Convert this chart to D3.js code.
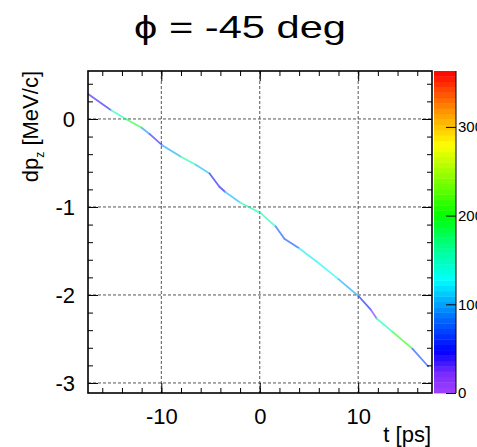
<!DOCTYPE html>
<html>
<head>
<meta charset="utf-8">
<script src="https://cdn.jsdelivr.net/npm/d3@7"></script>
<style>
  html, body { margin: 0; padding: 0; background: #fff; }
  svg { display: block; font-family: "Liberation Sans", Arial, sans-serif; }
</style>
</head>
<body>
<script>
// trajectory samples
const tValues  = [-17.4, -15.1, -13.6, -12.0, -11.2, -9.9, -8.0, -6.5, -5.1, -4.1, -3.5, -2.0,
                  0.1, 1.6, 2.5, 4.0, 6.0, 8.0, 10.1, 11.3, 11.9, 13.5, 15.5, 17.1];
const dpValues = [0.28, 0.10, 0.0, -0.10, -0.17, -0.30, -0.43, -0.52, -0.62, -0.77, -0.83, -0.95,
                  -1.07, -1.22, -1.36, -1.47, -1.64, -1.82, -2.02, -2.17, -2.27, -2.42, -2.61, -2.81];
const zValues  = [20, 60, 250, 130, 60, 20, 180, 140, 70, 20, 80, 130,
                  190, 120, 30, 110, 130, 120, 80, 20, 30, 280, 130, 10];

const xMajor = [-10, 0, 10];
const xMinor = d3.range(-16, 17, 2);
const yMajor = [0, -1, -2, -3];
const yMinor = d3.range(-3, 0.5, 0.2);
const zTicks = [0, 100, 200, 300];

// palette stops (fraction of z range) and colours
const palStops  = [0, 0.06, 0.13, 0.25, 0.35, 0.45, 0.55, 0.66, 0.77, 0.87, 1];
const palColors = ["#a040ff", "#7a2cff", "#0000ff", "#0080ff", "#00ffff", "#00ff90",
                   "#00ff00", "#80ff00", "#ffff00", "#ff9900", "#ff0000"];

const width = 477, height = 447;
const frame = { left: 88, right: 432, top: 71, bottom: 393 };
const bar = { left: 434, right: 456 };
const zMax = 363;

const svg = d3.select('body').append('svg')
    .attr('width', width)
    .attr('height', height);

const x = d3.scaleLinear().domain([-17.45, 17.5]).range([frame.left, frame.right]);
const y = d3.scaleLinear().domain([-3.114, 0.545]).range([frame.bottom, frame.top]);
const z = d3.scaleLinear().domain([0, zMax]).range([frame.bottom, frame.top]);
const color = d3.scaleLinear()
    .domain(palStops.map(s => s * zMax))
    .range(palColors)
    .interpolate(d3.interpolateRgb);

// title
svg.append('text')
    .attr('x', 240)
    .attr('y', 38)
    .attr('text-anchor', 'middle')
    .attr('font-size', 32)
    .attr('textLength', 212)
    .attr('lengthAdjust', 'spacingAndGlyphs')
    .text('ϕ = -45 deg');

// grid
const grid = svg.append('g')
    .attr('stroke', '#555')
    .attr('stroke-width', 1)
    .attr('stroke-dasharray', '3,2');
grid.selectAll('.gx').data(xMajor).join('line')
    .attr('x1', d => x(d)).attr('x2', d => x(d))
    .attr('y1', frame.top).attr('y2', frame.bottom);
grid.selectAll('.gy').data(yMajor).join('line')
    .attr('x1', frame.left).attr('x2', frame.right)
    .attr('y1', d => y(d)).attr('y2', d => y(d));

// the trajectory, each segment coloured by z
const pts = tValues.map((t, i) => ({ t, dp: dpValues[i], z: zValues[i] }));
const segs = d3.pairs(pts);
svg.append('g')
    .attr('stroke-width', 1.8)
    .attr('stroke-linecap', 'round')
    .attr('opacity', 0.6)
    .selectAll('line').data(segs).join('line')
    .attr('x1', d => x(d[0].t)).attr('y1', d => y(d[0].dp))
    .attr('x2', d => x(d[1].t)).attr('y2', d => y(d[1].dp))
    .attr('stroke', d => color((d[0].z + d[1].z) / 2));

// axes: ticks on all four sides, pointing inward
function styleAxis(g) {
    g.select('.domain').remove();
    g.selectAll('line').attr('stroke', '#000').attr('stroke-width', 1);
}
const fmt = d => String(d);

svg.append('g').attr('transform', `translate(0,${frame.bottom})`)
    .call(d3.axisBottom(x).tickValues(xMinor).tickSize(-5).tickFormat(''))
    .call(styleAxis);
svg.append('g').attr('transform', `translate(0,${frame.bottom})`)
    .call(d3.axisBottom(x).tickValues(xMajor).tickSize(-10).tickPadding(15).tickFormat(fmt))
    .call(styleAxis)
    .selectAll('text').attr('font-size', 22).attr('fill', '#000');
svg.append('g').attr('transform', `translate(0,${frame.top})`)
    .call(d3.axisTop(x).tickValues(xMinor).tickSize(-5).tickFormat(''))
    .call(styleAxis);
svg.append('g').attr('transform', `translate(0,${frame.top})`)
    .call(d3.axisTop(x).tickValues(xMajor).tickSize(-10).tickFormat(''))
    .call(styleAxis);

svg.append('g').attr('transform', `translate(${frame.left},0)`)
    .call(d3.axisLeft(y).tickValues(yMinor).tickSize(-5).tickFormat(''))
    .call(styleAxis);
svg.append('g').attr('transform', `translate(${frame.left},0)`)
    .call(d3.axisLeft(y).tickValues(yMajor).tickSize(-10).tickPadding(13).tickFormat(fmt))
    .call(styleAxis)
    .selectAll('text').attr('font-size', 22).attr('fill', '#000');
svg.append('g').attr('transform', `translate(${frame.right},0)`)
    .call(d3.axisRight(y).tickValues(yMinor).tickSize(-5).tickFormat(''))
    .call(styleAxis);
svg.append('g').attr('transform', `translate(${frame.right},0)`)
    .call(d3.axisRight(y).tickValues(yMajor).tickSize(-10).tickFormat(''))
    .call(styleAxis);

// frame
svg.append('rect')
    .attr('x', frame.left).attr('y', frame.top)
    .attr('width', frame.right - frame.left)
    .attr('height', frame.bottom - frame.top)
    .attr('fill', 'none')
    .attr('stroke', '#000')
    .attr('stroke-width', 1.6);

// axis titles
svg.append('text')
    .attr('transform', `translate(38,${frame.top}) rotate(-90)`)
    .attr('text-anchor', 'end')
    .attr('font-size', 22)
    .call(t => {
        t.append('tspan').text('dp');
        t.append('tspan').attr('font-size', 12).attr('dy', 6).text('z');
        t.append('tspan').attr('dy', -6).text(' [MeV/c]');
    });
svg.append('text')
    .attr('x', frame.right - 1)
    .attr('y', 442)
    .attr('text-anchor', 'end')
    .attr('font-size', 22)
    .text('t [ps]');

// colour bar
const nBands = 60;
const bands = d3.range(nBands).map(i => i * zMax / nBands);
svg.append('g').selectAll('rect').data(bands).join('rect')
    .attr('x', bar.left)
    .attr('width', bar.right - bar.left)
    .attr('y', d => z(d + zMax / nBands))
    .attr('height', d => z(d) - z(d + zMax / nBands) + 0.4)
    .attr('fill', d => color(d + zMax / nBands / 2));

svg.append('g').attr('transform', `translate(${bar.right},0)`)
    .call(d3.axisRight(z).tickValues(zTicks).tickSize(-10).tickPadding(2).tickFormat(fmt))
    .call(g => g.select('.domain').attr('stroke', '#000').attr('d', `M0,${frame.top}V${frame.bottom}`))
    .call(g => g.selectAll('line').attr('stroke', '#000'))
    .selectAll('text').attr('font-size', 15).attr('fill', '#000');
</script>
</body>
</html>
